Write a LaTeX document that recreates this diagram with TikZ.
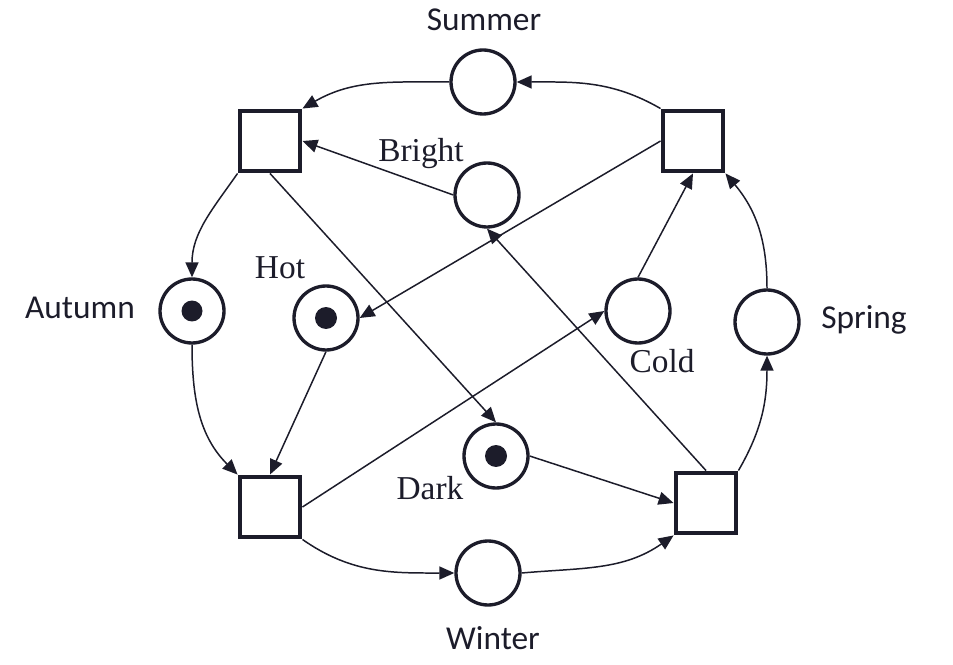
\documentclass[tikz,border=0pt]{standalone}
\usepackage{fontspec}
\setmainfont{Liberation Serif}
\newfontfamily\seasonfont{Carlito}
\usetikzlibrary{arrows.meta}
\definecolor{ink}{HTML}{1C1C2A}

\begin{document}
\begin{tikzpicture}[x=0.02cm, y=-0.02cm, color=ink,
    place/.style={circle, draw=ink, line width=1.9pt, minimum size=1.28cm, inner sep=0pt, fill=white},
    trans/.style={rectangle, draw=ink, line width=2.8pt, minimum size=1.2cm, inner sep=0pt, fill=white},
    arc/.style={-{Triangle[length=0.3cm,width=0.26cm]}, line width=0.85pt},
    season/.style={font=\seasonfont\fontsize{19}{22}\selectfont},
    cond/.style={font=\fontsize{19}{22}\selectfont}]
      \useasboundingbox (0,0) rectangle (953,665);

      % transitions
      \node[trans] (tl) at (270,141) {};
      \node[trans] (tr) at (693,141) {};
      \node[trans] (bl) at (270,507) {};
      \node[trans] (br) at (706,503) {};

      % places
      \node[place] (summer) at (483,82) {};
      \node[place] (bright) at (487,195) {};
      \node[place] (autumn) at (192,311) {};
      \node[place] (hot) at (326,318) {};
      \node[place] (cold) at (638,311) {};
      \node[place] (spring) at (767,322) {};
      \node[place] (dark) at (496,456) {};
      \node[place] (winter) at (488,573) {};

      % tokens
      \fill (autumn) circle (0.21cm);
      \fill (hot) circle (0.22cm);
      \fill (dark) circle (0.22cm);

      % labels
      \node[season] (lsummer) at (484,20) {Summer};
      \node[season] (lautumn) at (80,308) {Autumn};
      \node[season] (lspring) at (864,320) {Spring};
      \node[season] (lwinter) at (493,638) {Winter};
      \node[cond] (lbright) at (421,154) {Bright};
      \node[cond] (lhot) at (280,268) {Hot};
      \node[cond] (lcold) at (662,361) {Cold};
      \node[cond] (ldark) at (430,488) {Dark};

      % seasons cycle
      \draw[arc] (summer.west) to[out=180, in=30] (tl.north east);
      \draw[arc] (tl.south west) to[out=235, in=90] (autumn.north);
      \draw[arc] (autumn.south) to[out=-90, in=135] (bl.north west);
      \draw[arc] (bl.south east) to[out=-35, in=180] (winter.west);
      \draw[arc] (winter.east) to[out=5, in=-145] (br.south west);
      \draw[arc] (br.north east) to[out=60, in=-90] (spring.south);
      \draw[arc] (spring.north) to[out=90, in=-50] (tr.south east);
      \draw[arc] (tr.north west) to[out=150, in=0] (summer.east);

      % conditions
      \draw[arc] (bright.west) -- (tl.east);
      \draw[arc] (tr.west) -- (hot.east);
      \draw[arc] (hot.south) -- (bl.north);
      \draw[arc] (bl.east) -- (cold.west);
      \draw[arc] (cold.north) -- (tr.south);
      \draw[arc] (tl.south) -- (dark.north);
      \draw[arc] (dark.east) -- (br.west);
      \draw[arc] (br.north) -- (bright.south);

\end{tikzpicture}
\end{document}
